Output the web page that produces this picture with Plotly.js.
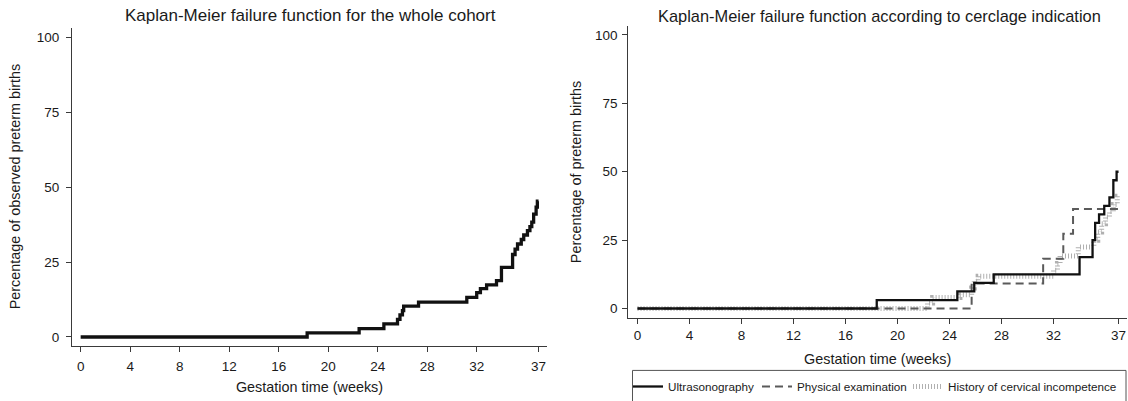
<!DOCTYPE html>
<html><head><meta charset="utf-8">
<script src="https://cdn.plot.ly/plotly-3.0.1.min.js"></script>
<style>html,body{margin:0;padding:0;background:#fff}</style>
</head><body><div id="chart" style="width:1128px;height:401px"></div>
<script>
// ---- data ----
const weekTicks = [0, 4, 8, 12, 16, 20, 24, 28, 32, 37];
const pctTicks = [0, 25, 50, 75, 100];

// whole cohort KM failure (weeks, %)
const cohortWeeks = [0, 18.3, 22.5, 24.5, 25.6, 25.8, 26.0, 26.1, 27.3, 31.2, 32.0, 32.3, 32.8, 33.6, 34.0, 34.9, 35.1, 35.3, 35.6, 35.8, 36.1, 36.3, 36.45, 36.6, 36.8, 36.9, 37.0];
const cohortPct   = [0, 1.4, 2.8, 4.4, 5.9, 7.4, 8.8, 10.3, 11.6, 13.2, 14.8, 16.1, 17.4, 18.8, 23.2, 27.5, 29.3, 31.0, 32.5, 34.0, 35.5, 36.8, 38.3, 41.0, 43.3, 45.3, 45.3];

// by cerclage indication
const usWeeks = [0, 18.4, 24.6, 25.9, 27.4, 34.0, 35.0, 35.2, 35.5, 35.9, 36.3, 36.6, 36.85, 37.0];
const usPct   = [0, 3.1, 6.3, 9.4, 12.5, 18.8, 25.0, 31.3, 34.4, 37.5, 40.6, 46.9, 50.0, 50.0];

const peWeeks = [0, 25.7, 31.2, 32.75, 33.5, 37.0];
const pePct   = [0, 9.1, 18.2, 27.3, 36.4, 36.4];

const hciWeeks = [0, 22.3, 22.7, 24.8, 25.7, 25.9, 26.2, 32.0, 32.3, 32.5, 33.9, 35.1, 35.4, 35.7, 36.0, 36.3, 36.6, 36.9, 37.0];
const hciPct   = [0, 2.0, 4.0, 5.0, 7.5, 10.0, 11.8, 14.0, 16.5, 19.2, 22.5, 25.0, 28.0, 31.0, 33.5, 35.5, 38.0, 41.0, 41.0];

const seriesNames = ['Ultrasonography', 'Physical examination', 'History of cervical incompetence'];
const titles = ['Kaplan-Meier failure function for the whole cohort', 'Kaplan-Meier failure function according to cerclage indication'];
const yTitles = ['Percentage of observed preterm births', 'Percentage of preterm births'];
const xTitle = 'Gestation time (weeks)';

// ---- layout helpers ----
const W = 1128, H = 401;
const px = v => v / W;
const py = v => 1 - v / H;
const FONT = 'Liberation Sans, Arial, Helvetica, sans-serif';
const AX = '#3a3a3a';

const traces = [
  {x: cohortWeeks, y: cohortPct, xaxis: 'x', yaxis: 'y', type: 'scatter', mode: 'lines',
   line: {shape: 'hv', color: '#111', width: 3.3}, showlegend: false, hoverinfo: 'skip'},
  {x: hciWeeks, y: hciPct, xaxis: 'x2', yaxis: 'y2', type: 'scatter', mode: 'lines', name: seriesNames[2],
   line: {shape: 'hv', color: '#b0b0b0', width: 5, dash: '1px,2px'}, legendrank: 3, legendwidth: 170},
  {x: peWeeks, y: pePct, xaxis: 'x2', yaxis: 'y2', type: 'scatter', mode: 'lines', name: seriesNames[1],
   line: {shape: 'hv', color: '#5a5a5a', width: 2, dash: '8px,5px'}, legendrank: 2, legendwidth: 106},
  {x: usWeeks, y: usPct, xaxis: 'x2', yaxis: 'y2', type: 'scatter', mode: 'lines', name: seriesNames[0],
   line: {shape: 'hv', color: '#111', width: 2.3}, legendrank: 1, legendwidth: 84}
];

const axBase = {
  showline: true, linecolor: AX, linewidth: 1, ticks: 'outside', ticklen: 5, tickwidth: 1, tickcolor: AX,
  showgrid: false, zeroline: false, tickfont: {family: FONT, size: 13.5, color: '#1a1a1a'}
};

const layout = {
  width: W, height: H, margin: {l: 0, r: 0, t: 0, b: 0},
  paper_bgcolor: '#fff', plot_bgcolor: '#fff', font: {family: FONT, color: '#1a1a1a'},
  xaxis: Object.assign({}, axBase, {domain: [px(72), px(547)], range: [-0.7, 37.68], tickvals: weekTicks,
    anchor: 'y', ticklabelstandoff: 3,
    title: {text: xTitle, font: {family: FONT, size: 14.4, color: '#1a1a1a'}, standoff: 9}}),
  yaxis: Object.assign({}, axBase, {domain: [py(351.7), py(28)], range: [-2.86, 103.2], tickvals: pctTicks,
    anchor: 'x', ticklabelstandoff: 4,
    title: {text: yTitles[0], font: {family: FONT, size: 14.4, color: '#1a1a1a'}, standoff: 12}}),
  xaxis2: Object.assign({}, axBase, {domain: [px(628.3), px(1127)], range: [-0.71, 37.65], tickvals: weekTicks,
    anchor: 'y2', ticklabelstandoff: 0,
    title: {text: xTitle, font: {family: FONT, size: 14.4, color: '#1a1a1a'}, standoff: 12}}),
  yaxis2: Object.assign({}, axBase, {domain: [py(323.3), py(26.7)], range: [-3.34, 103.2], tickvals: pctTicks,
    anchor: 'x2', ticklabelstandoff: 2,
    title: {text: yTitles[1], font: {family: FONT, size: 14.4, color: '#1a1a1a'}, standoff: 10}}),
  showlegend: true,
  legend: {orientation: 'h', x: px(628), xanchor: 'left', y: py(379), yanchor: 'top',
    bgcolor: 'rgba(0,0,0,0)', borderwidth: 0, font: {family: FONT, size: 11.7, color: '#1a1a1a'},
    traceorder: 'normal'},
  annotations: [
    {text: titles[0], xref: 'paper', yref: 'paper', x: px(310.5), y: py(15.5), xanchor: 'center', yanchor: 'middle',
     showarrow: false, font: {family: FONT, size: 17, color: '#1a1a1a'}},
    {text: titles[1], xref: 'paper', yref: 'paper', x: px(879), y: py(16), xanchor: 'center', yanchor: 'middle',
     showarrow: false, font: {family: FONT, size: 16.4, color: '#1a1a1a'}}
  ],
  shapes: [
    {type: 'rect', xref: 'paper', yref: 'paper', x0: px(632.5), x1: px(1126), y0: py(377), y1: py(415),
     line: {color: '#555', width: 1}, fillcolor: 'rgba(0,0,0,0)'}
  ]
};

Plotly.newPlot('chart', traces, layout, {displayModeBar: false, staticPlot: true});
</script>
</body></html>
